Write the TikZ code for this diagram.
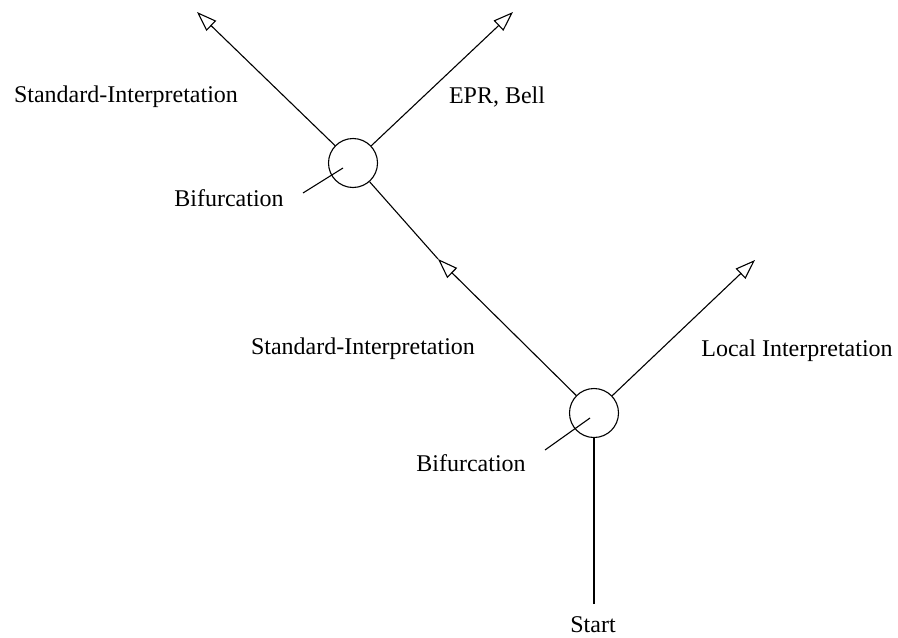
\documentclass[tikz,border=0pt]{standalone}
\usepackage{fontspec}
\setmainfont{Liberation Serif}
\usetikzlibrary{arrows.meta}
\begin{document}
\begin{tikzpicture}[
        x=0.5pt,
        y=-0.5pt,
        line width=0.55pt,
        font=\fontsize{12}{14}\selectfont
    ]
    \tikzset{
        bifnode/.style = {circle, draw=black, minimum size=24.5pt, inner sep=0pt},
        mytext/.style = {inner sep=0pt, anchor=center},
        arr/.style = {-{Triangle[open, length=10pt, width=7pt]}},
        plain/.style = {-},
    }
    \useasboundingbox (0,0) rectangle (898,637);
    % nodes
    \node[bifnode] at (353,163) (bifa) {};
    \node[bifnode] at (594,413) (bifb) {};
    \coordinate (tl) at (197,12);
    \coordinate (tr) at (513,12);
    \coordinate (mid) at (438,259);
    \coordinate (br) at (755,260);
    \coordinate (start) at (594,604);
    \coordinate (pa) at (303,193);
    \coordinate (pai) at (343,168);
    \coordinate (pb) at (545,450);
    \coordinate (pbi) at (590,418);
    %
    \node[mytext] at (126,97) (stdtop) {Standard-Interpretation};
    \node[mytext] at (497,97) (epr) {EPR, Bell};
    \node[mytext] at (229,198) (bifla) {Bifurcation};
    \node[mytext] at (363,349) (stdmid) {Standard-Interpretation};
    \node[mytext] at (797,351) (local) {Local Interpretation};
    \node[mytext] at (471,463) (biflb) {Bifurcation};
    \node[mytext] at (593,625) (startl) {Start};
    %
    \draw[arr] (bifa) -- (tl);
    \draw[arr] (bifa) -- (tr);
    \draw[arr] (bifb) -- (mid);
    \draw[plain] (mid) -- (bifa);
    \draw[arr] (bifb) -- (br);
    \draw[plain] (start) -- (bifb);
    %
    \draw[plain] (pa) -- (pai);
    \draw[plain] (pb) -- (pbi);
\end{tikzpicture}
\end{document}
